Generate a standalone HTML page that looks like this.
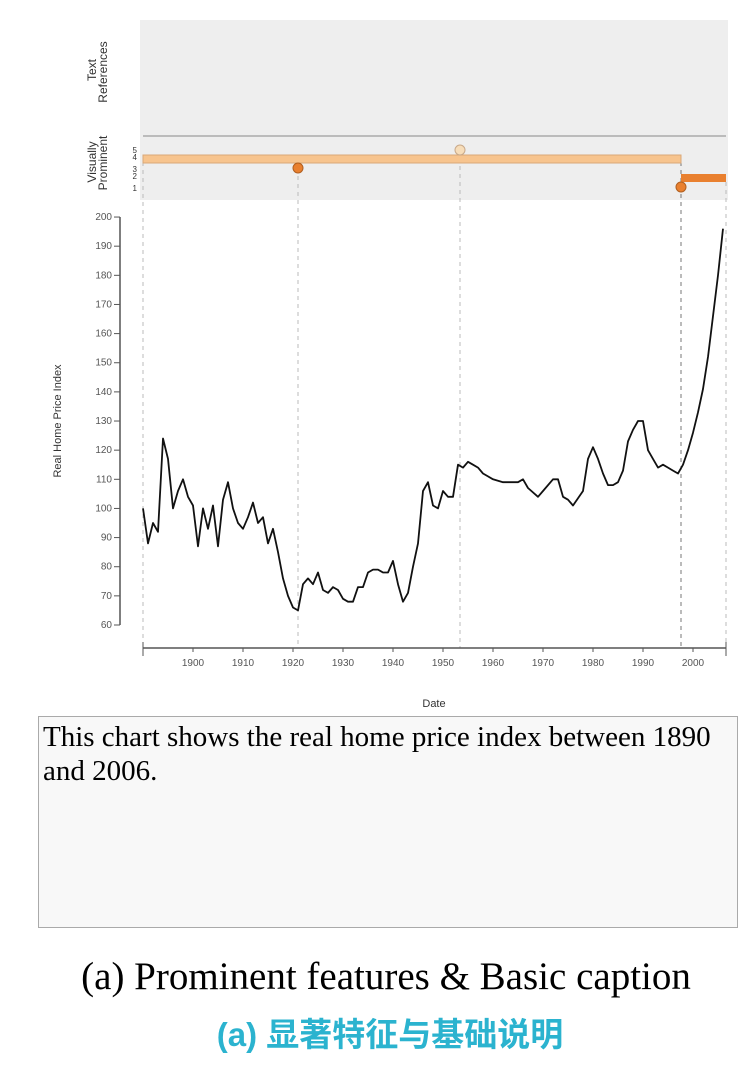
<!DOCTYPE html>
<html><head><meta charset="utf-8"><style>
body{margin:0;width:750px;height:1072px;background:#fff;position:relative;overflow:hidden}
.box{position:absolute;left:38px;top:716px;width:700px;height:212px;border:1px solid #aaa;background:#f8f8f8;font-family:"Liberation Serif",serif;font-size:29px;line-height:34px;padding:3px 10px 4px 4px;box-sizing:border-box;color:#000}
.cap{position:absolute;left:0;width:772px;text-align:center;top:954px;font-family:"Liberation Serif",serif;font-size:39px;color:#000}
.cn{position:absolute;left:0;width:780px;text-align:center;top:1008px;font-family:"Liberation Sans","Noto Sans CJK SC",sans-serif;font-size:33px;font-weight:bold;color:#2bb3cf}
</style></head><body>
<svg width="750" height="720" style="position:absolute;left:0;top:0" font-family="Liberation Sans, sans-serif">
<rect x="140" y="20" width="588" height="180" fill="#eeeeee"/>
<line x1="143" y1="136" x2="726" y2="136" stroke="#aaa" stroke-width="1.5"/>
<g stroke="#bbb" stroke-dasharray="4,4" stroke-width="1">
<line x1="143" y1="162" x2="143" y2="648"/><line x1="298" y1="168" x2="298" y2="648"/><line x1="460" y1="150" x2="460" y2="648"/><line x1="726" y1="182" x2="726" y2="648"/></g>
<line x1="681" y1="162" x2="681" y2="648" stroke="#777" stroke-dasharray="4,4"/>
<rect x="143" y="155" width="538" height="8" fill="#f7c48e" stroke="#d9a878"/>
<rect x="681" y="174" width="45" height="8" fill="#e9802f"/>
<ellipse cx="460" cy="150" rx="5" ry="5" fill="#f7ddb9" stroke="#c8a98a"/>
<ellipse cx="298" cy="168" rx="5" ry="5" fill="#e9802f" stroke="#b05f20"/>
<ellipse cx="681" cy="187" rx="5" ry="5" fill="#e9802f" stroke="#b05f20"/>
<g font-size="12" fill="#333" text-anchor="middle">
<text transform="translate(96,70) rotate(-90)">Text</text>
<text transform="translate(107,72) rotate(-90)">References</text>
<text transform="translate(96,162) rotate(-90)">Visually</text>
<text transform="translate(107,163) rotate(-90)">Prominent</text></g>
<g font-size="8" fill="#333" text-anchor="end">
<text x="137" y="153">5</text><text x="137" y="160">4</text><text x="137" y="172">3</text><text x="137" y="179">2</text><text x="137" y="191">1</text></g>
<line x1="120" y1="217" x2="120" y2="625" stroke="#555" stroke-width="1.5"/>
<g font-size="10" fill="#555" text-anchor="end" id="yt"></g>
<text transform="translate(61,421) rotate(-90)" font-size="11" fill="#333" text-anchor="middle">Real Home Price Index</text>
<line x1="143" y1="648" x2="726" y2="648" stroke="#555" stroke-width="1.5"/>
<g id="xt" font-size="10" fill="#555" text-anchor="middle"></g>
<text x="434" y="707" font-size="11" fill="#333" text-anchor="middle">Date</text>
<polyline id="pl" fill="none" stroke="#111" stroke-width="1.8" stroke-linejoin="round"/>
</svg>
<div class="box">This chart shows the real home price index between 1890 and 2006.</div>
<div class="cap">(a) Prominent features &amp; Basic caption</div>
<div class="cn">(a) 显著特征与基础说明</div>
<script>
function Y(v){return 625-(v-60)*2.914}
function X(y){return 143+5*(y-1890)}
var yt=document.getElementById('yt'),s="";
for(var v=60;v<=200;v+=10){s+='<text x="112" y="'+(Y(v)+3)+'">'+v+'</text><line x1="114" x2="120" y1="'+Y(v)+'" y2="'+Y(v)+'" stroke="#555"/>';}
yt.innerHTML=s;
var xt=document.getElementById('xt');s='<line x1="143" x2="143" y1="642" y2="656" stroke="#555"/><line x1="726" x2="726" y1="642" y2="656" stroke="#555"/>';
for(var y=1900;y<=2000;y+=10){s+='<text x="'+X(y)+'" y="666">'+y+'</text><line x1="'+X(y)+'" x2="'+X(y)+'" y1="648" y2="652" stroke="#555"/>';}
xt.innerHTML=s;
var d=[[1890,100],[1891,88],[1892,95],[1893,92],[1894,124],[1895,117],[1896,100],[1897,106],[1898,110],[1899,104],[1900,101],[1901,87],[1902,100],[1903,93],[1904,101],[1905,87],[1906,103],[1907,109],[1908,100],[1909,95],[1910,93],[1911,97],[1912,102],[1913,95],[1914,97],[1915,88],[1916,93],[1917,85],[1918,76],[1919,70],[1920,66],[1921,65],[1922,74],[1923,76],[1924,74],[1925,78],[1926,72],[1927,71],[1928,73],[1929,72],[1930,69],[1931,68],[1932,68],[1933,73],[1934,73],[1935,78],[1936,79],[1937,79],[1938,78],[1939,78],[1940,82],[1941,74],[1942,68],[1943,71],[1944,80],[1945,88],[1946,106],[1947,109],[1948,101],[1949,100],[1950,106],[1951,104],[1952,104],[1953,115],[1954,114],[1955,116],[1956,115],[1957,114],[1958,112],[1959,111],[1960,110],[1962,109],[1965,109],[1966,110],[1967,107],[1969,104],[1970,106],[1972,110],[1973,110],[1974,104],[1975,103],[1976,101],[1978,106],[1979,117],[1980,121],[1981,117],[1982,112],[1983,108],[1984,108],[1985,109],[1986,113],[1987,123],[1988,127],[1989,130],[1990,130],[1991,120],[1992,117],[1993,114],[1994,115],[1995,114],[1996,113],[1997,112],[1998,115],[1999,120],[2000,126],[2001,133],[2002,141],[2003,152],[2004,166],[2005,180],[2006,196]];
document.getElementById('pl').setAttribute('points',d.map(function(p){return X(p[0]).toFixed(1)+','+Y(p[1]).toFixed(1)}).join(' '));
</script>
</body></html>
